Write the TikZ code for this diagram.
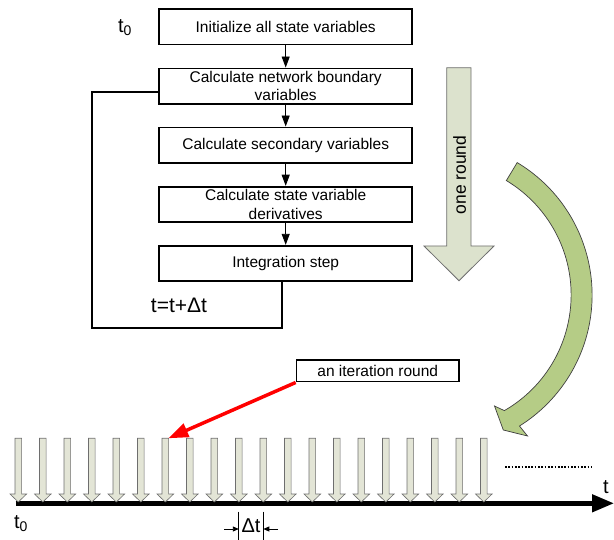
\documentclass[tikz,border=0pt]{standalone}
\usepackage{fontspec}
\setmainfont{Liberation Sans}
\usetikzlibrary{arrows.meta,calc}
\definecolor{roundfill}{HTML}{DCE2CD}
\definecolor{tickfill}{HTML}{E3E5D6}
\definecolor{arcfill}{HTML}{B5CC86}
\definecolor{edgegray}{HTML}{6E6E6E}
\begin{document}
\begin{tikzpicture}[x=1pt,y=-1pt,
  stepbox/.style={draw,line width=1.8pt,minimum width=253pt,minimum height=35.5pt,
    inner sep=0pt,align=center,font=\fontsize{15.5}{18.3}\selectfont},
  flow/.style={line width=0.9pt,-{Triangle[length=11pt,width=8pt]}},
  loopline/.style={line width=1.8pt},
  big/.style={inner sep=0pt,font=\fontsize{20}{24}\selectfont},
  tick/.style={fill=tickfill,draw=edgegray,line width=0.6pt},
  smallarrow/.style={line width=0.9pt,-{Triangle[length=6pt,width=5pt]}}]
\useasboundingbox (0,0) rectangle (614,540);

% flow chart
\node[stepbox] (b1) at (285.7,26.8) {Initialize all state variables};
\node[stepbox] (b2) at (285.7,86.2) {Calculate network boundary\\variables};
\node[stepbox] (b3) at (285.7,145.2) {Calculate secondary variables};
\node[stepbox] (b4) at (285.7,204.4) {Calculate state variable\\derivatives};
\node[stepbox] (b5) at (285.7,263.5) {Integration step};
\draw[flow] (b1) -- (b2);
\draw[flow] (b2) -- (b3);
\draw[flow] (b3) -- (b4);
\draw[flow] (b4) -- (b5);

\node[big] (t0top) at (125,28) {t\textsubscript{0}};

% feedback loop
\coordinate (loopx) at (281.7,0);
\coordinate (loopy) at (0,92.3);
\coordinate (loopbr) at (281.7,328.3);
\coordinate (loopbl) at (91.7,328.3);
\coordinate (looptl) at (91.7,92.3);
\draw[loopline] (b5.south -| loopx) -- (loopbr) -- (loopbl) -- (looptl) -- (b2.west |- loopy);
\node[big,font=\fontsize{21}{24}\selectfont] (inc) at (179,305) {t=t+Δt};

% one round arrow
\filldraw[fill=roundfill,draw=edgegray,line width=0.8pt]
  (446.7,67.7) -- (471,67.7) -- (471,246) -- (494,246) -- (459,280.7)
  -- (424,246) -- (446.7,246) -- cycle;
\node[rotate=90,inner sep=0pt,font=\fontsize{17.5}{20}\selectfont] (oneround) at (459.5,175) {one round};

% curved green arrow
\coordinate (ac) at (437.6,295);
\filldraw[fill=arcfill,draw=black!75,line width=0.7pt]
  ($(ac)+(-59:154.5)$) arc[start angle=-59,end angle=58,radius=154.5]
  -- (527.5,436) -- (503.3,430) -- (494.5,406)
  -- ($(ac)+(60:133.5)$) arc[start angle=60,end angle=-59,radius=133.5] -- cycle;

% time axis
\coordinate (axstart) at (15.5,503.3);
\coordinate (axend) at (614,503.3);
\draw[line width=4.5pt,-{Triangle[length=22pt,width=17pt]}] (axstart) -- (axend);
\node[big] (tlab) at (606,487) {t};
\node[big] (t0bot) at (21,524) {t\textsubscript{0}};

% iteration steps
\foreach \i in {0,...,19}{
  \pgfmathsetmacro\cx{18.3+24.5*\i}
  \filldraw[tick] (\cx-3.3,438.3) -- (\cx+3.3,438.3) -- (\cx+3.3,494) -- (\cx+8.3,494)
    -- (\cx,502) -- (\cx-8.3,494) -- (\cx-3.3,494) -- cycle;
  \coordinate (tick\i) at (\cx,438.3);
}

% continuation dots
\coordinate (dotsa) at (505,466.7);
\coordinate (dotsb) at (592,466.7);
\draw[line width=1.7pt,dash pattern=on 1.7pt off 1.6pt] (dotsa) -- (dotsb);

% label of one iteration round
\node[draw,line width=1.5pt,minimum width=162.6pt,minimum height=21.7pt,inner sep=0pt,
  font=\fontsize{15.5}{18}\selectfont] (iter) at (377.7,370.9) {an iteration round};
\draw[red,line width=3.5pt,-{Triangle[length=20pt,width=14pt]}]
  (iter.south west) -- ($(tick6)+(3,0)$);

% time step marker
\coordinate (dta) at (238.8,511.7);
\coordinate (dtb) at (263.3,511.7);
\draw[line width=0.9pt] (dta) -- ++(0,28.3);
\draw[line width=0.9pt] (dtb) -- ++(0,28.3);
\coordinate (dtla) at (224,529);
\coordinate (dtrb) at (278,529);
\draw[smallarrow] (dtla) -- (dtla -| dta);
\draw[smallarrow] (dtrb) -- (dtrb -| dtb);
\node[big] (dt) at (251,526) {Δt};
\end{tikzpicture}
\end{document}
